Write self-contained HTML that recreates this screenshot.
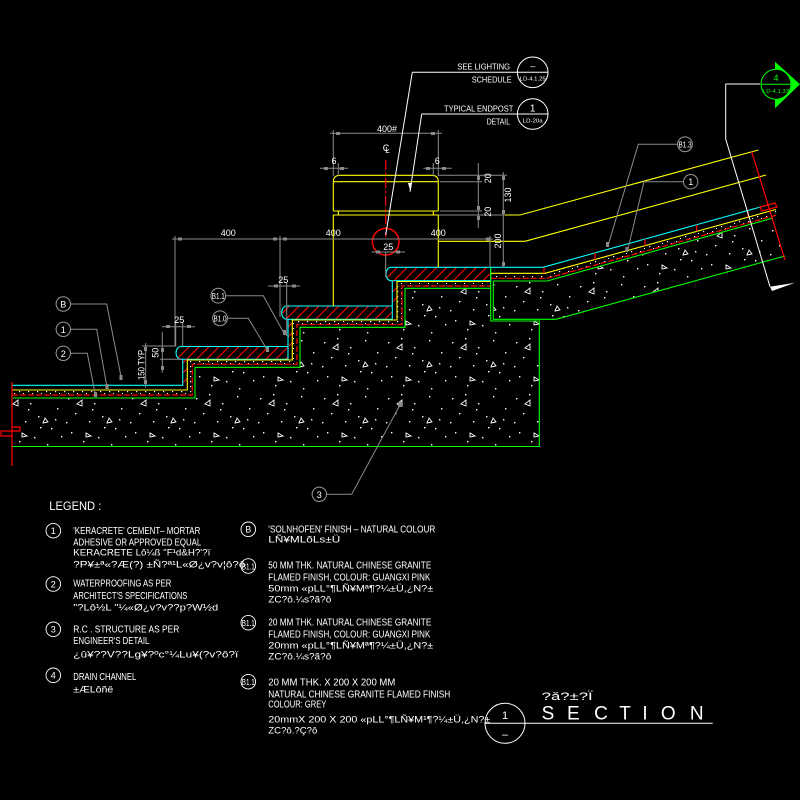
<!DOCTYPE html>
<html><head><meta charset="utf-8"><style>
html,body{margin:0;padding:0;background:#000;}
svg{display:block;}
text{font-family:"Liberation Sans","DejaVu Sans",sans-serif;fill:#fff;}
</style></head><body>
<svg width="800" height="800" viewBox="0 0 800 800">
<defs>
<pattern id="hatch" width="7" height="7" patternUnits="userSpaceOnUse" patternTransform="rotate(45)"><line x1="1" y1="0" x2="1" y2="7" stroke="#ff0000" stroke-width="1.1"/></pattern>
<pattern id="conc" width="64" height="56" patternUnits="userSpaceOnUse">
 <g fill="#fff">
  <rect x="4" y="6" width="1.4" height="1.4"/><rect x="17" y="2" width="1.4" height="1.4"/>
  <rect x="30" y="11" width="1.4" height="1.4"/><rect x="45" y="4" width="1.4" height="1.4"/>
  <rect x="57" y="16" width="1.4" height="1.4"/><rect x="11" y="21" width="1.4" height="1.4"/>
  <rect x="25" y="29" width="1.4" height="1.4"/><rect x="38" y="24" width="1.4" height="1.4"/>
  <rect x="51" y="36" width="1.4" height="1.4"/><rect x="7" y="40" width="1.4" height="1.4"/>
  <rect x="19" y="49" width="1.4" height="1.4"/><rect x="34" y="45" width="1.4" height="1.4"/>
  <rect x="47" y="52" width="1.4" height="1.4"/><rect x="61" y="44" width="1.4" height="1.4"/>
  <rect x="28" y="17" width="1.4" height="1.4"/><rect x="2" y="30" width="1.4" height="1.4"/>
  <rect x="55" y="27" width="1.4" height="1.4"/><rect x="40" y="35" width="1.4" height="1.4"/>
 </g>
 <g fill="none" stroke="#fff" stroke-width="0.9">
  <path d="M13,12 l5,-4 v6 z"/><path d="M43,31 l5,-1 l-3,-4 z"/><path d="M22,41 l5,3 l-5,1 z"/>
 </g>
</pattern>
<pattern id="mort" width="9" height="5" patternUnits="userSpaceOnUse"><rect x="1" y="1" width="1.2" height="1.2" fill="#fff"/><rect x="5" y="3" width="1" height="1" fill="#fff"/></pattern>
</defs>
<rect width="800" height="800" fill="#000"/>

<!-- concrete fills -->
<path d="M12,398 H195 V367.3 H300 V327.3 H405 V288.3 H490.7 V321 H539.3 V446.5 H12 Z" fill="url(#conc)"/>
<path d="M493.3,281 H547 L773,218 L785,256 L556,319.3 H493.3 Z" fill="url(#conc)"/>

<!-- mortar bands -->
<path d="M12,390 H187.3 V360 H292.3 V320 H397 V281.5 H490.7 V286 H402 V324.5 H297 V364.3 H192.3 V395 H12 Z" fill="url(#mort)"/>
<path d="M490.7,273.3 H545 L776,209.5 L777,215 L547,278.3 H490.7 Z" fill="url(#mort)"/>

<!-- slabs -->
<g fill="url(#hatch)" stroke="#00ffff" stroke-width="1.1">
 <path d="M181,346.5 H288 V359.3 H181 A5 6.4 0 0 1 181,346.5 Z"/>
 <path d="M286.7,306 H392.3 V319.3 H286.7 A5 6.65 0 0 1 286.7,306 Z"/>
 <path d="M391,267.3 H490.7 V280.7 H391 A5 6.7 0 0 1 391,267.3 Z"/>
</g>
<g fill="url(#hatch)">
 <rect x="182.7" y="359.3" width="4.6" height="26"/>
 <rect x="288" y="319.3" width="4.3" height="26.7"/>
 <rect x="392.3" y="280.7" width="4.7" height="25.3"/>
</g>

<!-- cyan lines -->
<g stroke="#00ffff" stroke-width="1.1" fill="none">
 <path d="M12,385.3 H182.7 V359.3"/>
 <path d="M288,319.3 V346.5"/>
 <path d="M392.3,280.7 V306"/>
 <path d="M490.7,267.3 H543 L775,203"/>
</g>
<!-- yellow layer lines -->
<g stroke="#ffff00" stroke-width="1.1" fill="none">
 <path d="M12,390 H187.3 V360 H292.3 V320 H397 V281.5 H490.7"/>
 <path d="M490.7,273.3 H545 L776,209.5"/>
 <path d="M438.3,241.3 H525 L766,175"/>
 <path d="M505,215 H520 L758.3,150"/>
 <path d="M333.3,306 V215 H438.3 V267.3"/>
 <path d="M333.3,211 H438.3"/>
 <path d="M338.3,211 V215 M433.3,211 V215"/>
 <path d="M333.3,211 V181.7 Q333.3,175.3 340,175.3 H431.6 Q438.3,175.3 438.3,181.7 V211"/>
 <path d="M333.3,181.7 H438.3"/>
</g>
<!-- red dashed waterproofing -->
<g stroke="#ff0000" stroke-width="1.2" fill="none" stroke-dasharray="6 2">
 <path d="M12,395 H192.3 V364.3 H297 V324.5 H402 V286 H490.7"/>
 <path d="M490.7,278.3 H547 L777,215"/>
</g>
<!-- green concrete lines -->
<g stroke="#00ff00" stroke-width="1.1" fill="none">
 <path d="M12,398 H195 V367.3 H300 V327.3 H405 V288.3 H490.7"/>
 <path d="M490.7,267.3 V321 H539.3 V446.5 H12"/>
 <path d="M493.3,281 H547 L773,218"/>
 <path d="M493.3,281 V319.3 H556 L785,256"/>
</g>
<!-- red misc -->
<g stroke="#ff0000" stroke-width="1.2" fill="none">
 <path d="M12,382 V466"/>
 <path d="M12,427 H20 V431 H12 M12,431 H1 V436 H12"/>
 <path d="M544,267.3 V273.3 M595,252.9 V259.5 M645,239 V245.7 M696.7,224.7 V231.3 M748,210.6 V217.2"/>
 <path d="M751.7,151.7 L785,260"/>
 <path d="M760,207 L775,203 L777,207 L762,211 Z"/>
 <path d="M385.7,160 V237" stroke-dasharray="10 3 2 3"/>
 <circle cx="385.7" cy="241.7" r="13.3" stroke-width="1.5"/>
</g>

<!-- dimensions -->
<g stroke="#8a8a8a" stroke-width="1" fill="none">
 <path d="M333.3,130 V176 M438.3,130 V176 M330,133.3 H442"/>
 <path d="M320,168.3 H348 M338.3,163 V176"/>
 <path d="M423.3,168.3 H451.7 M433.3,163 V176"/>
 <path d="M478.3,163 V228 M438.3,175.3 H507 M440,181.7 H482 M440,211 H482 M438.3,215 H505 M503.3,172 V268"/>
 <path d="M172,239 H493 M175,236 V346 M280,236 V317 M490,236 V267"/>
 <path d="M371.7,252 H405 M385.7,252 V277"/>
 <path d="M268,286 H300 M286.7,283 V336"/>
 <path d="M161.7,326.7 H195 M175.7,322 V346 M182.7,322 V346"/>
 <path d="M145.7,343 V388 M142,346 H176"/>
 <path d="M162.3,331.7 V372.7 M160,359.3 H182"/>
 <path d="M70.3,304 H106.7 L121.7,380"/>
 <path d="M70.3,329.3 H96.7 L107.3,389"/>
 <path d="M70.3,353.3 H87.3 L95.7,396.7"/>
 <path d="M225.6,295.7 H263.3 L285,335"/>
 <path d="M227.3,318.3 H248.3 L268.3,351.7"/>
 <path d="M326.6,494.3 H351.7 L401.7,401.7"/>
 <path d="M677.7,144.3 H638.3 L607.7,246.7"/>
 <path d="M683.4,181.7 H644 L627.3,251.7"/>
</g>
<g fill="#8a8a8a">
 <rect x="336" y="132" width="4" height="3"/><rect x="431" y="132" width="4" height="3"/>
 <rect x="324" y="167" width="4" height="3"/><rect x="340" y="167" width="4" height="3"/>
 <rect x="426" y="167" width="4" height="3"/><rect x="442" y="167" width="4" height="3"/>
 <rect x="477" y="176" width="3" height="4"/><rect x="477" y="206" width="3" height="4"/><rect x="477" y="216" width="3" height="4"/>
 <rect x="502" y="176" width="3" height="4"/><rect x="502" y="210" width="3" height="4"/><rect x="502" y="262" width="3" height="4"/>
 <rect x="178" y="237.5" width="4" height="3"/><rect x="273" y="237.5" width="4" height="3"/><rect x="283" y="237.5" width="4" height="3"/><rect x="486" y="237.5" width="4" height="3"/>
 <rect x="376" y="250.5" width="4" height="3"/><rect x="396" y="250.5" width="4" height="3"/>
 <rect x="274" y="284.5" width="4" height="3"/><rect x="292" y="284.5" width="4" height="3"/>
 <rect x="166" y="325" width="4" height="3"/><rect x="187" y="325" width="4" height="3"/>
 <rect x="144" y="347" width="3" height="4"/><rect x="144" y="380" width="3" height="4"/>
 <rect x="161" y="348" width="3" height="4"/><rect x="161" y="366" width="3" height="4"/>
 <rect x="119.5" y="375" width="3" height="5"/><rect x="105.5" y="384" width="3" height="5"/><rect x="94" y="392" width="3" height="5"/>
 <rect x="283" y="330" width="3" height="5"/><rect x="266" y="347" width="3" height="5"/>
 <rect x="398" y="402" width="4" height="5"/><rect x="606" y="242" width="3" height="5"/><rect x="625.5" y="247" width="3" height="5"/>
</g>

<!-- dimension text -->
<g font-size="9" text-anchor="middle">
 <text x="387" y="132" textLength="20" lengthAdjust="spacingAndGlyphs">400#</text>
 <text x="386" y="151">C</text><text x="387.5" y="153" font-size="8">L</text>
 <text x="334" y="164">6</text><text x="437.3" y="164">6</text>
 <text x="228.3" y="236">400</text><text x="333.3" y="236">400</text><text x="438.3" y="236">400</text>
 <text x="388.3" y="250">25</text>
 <text x="283.3" y="283">25</text>
 <text x="179.3" y="323">25</text>
 <text transform="translate(491,178.3) rotate(-90)">20</text>
 <text transform="translate(491,211.7) rotate(-90)">20</text>
 <text transform="translate(511,195) rotate(-90)">130</text>
 <text transform="translate(501,241) rotate(-90)">200</text>
 <text transform="translate(144.7,365) rotate(-90)" textLength="30" lengthAdjust="spacingAndGlyphs">150 TYP</text>
 <text transform="translate(158.3,352.7) rotate(-90)">50</text>
</g>

<!-- diagram label circles -->
<g fill="#000" stroke="#9a9a9a" stroke-width="1">
 <circle cx="63.3" cy="304" r="7.2"/><circle cx="63.3" cy="329.3" r="7.2"/><circle cx="63.3" cy="353.3" r="7.2"/>
 <circle cx="218.3" cy="295.7" r="7.4"/><circle cx="220" cy="318.3" r="7.4"/>
 <circle cx="319.3" cy="494.3" r="7.2"/><circle cx="685" cy="144.3" r="7.4"/><circle cx="690.7" cy="181.7" r="7.2"/>
</g>
<g font-size="9" text-anchor="middle">
 <text x="63.3" y="307.5">B</text><text x="63.3" y="332.8">1</text><text x="63.3" y="356.8">2</text>
 <text x="218.3" y="299" font-size="8" textLength="13" lengthAdjust="spacingAndGlyphs">B1.1</text>
 <text x="220" y="321.6" font-size="8" textLength="13" lengthAdjust="spacingAndGlyphs">B1.0</text>
 <text x="319.3" y="497.8">3</text>
 <text x="685" y="147.6" font-size="8" textLength="13" lengthAdjust="spacingAndGlyphs">B1.3</text>
 <text x="690.7" y="185.2">1</text>
</g>

<!-- top references -->
<g stroke="#fff" stroke-width="1" fill="none">
 <path d="M412.3,72.3 H548.3 M412.3,72.3 L385.7,235"/>
 <path d="M421.7,114 H548.3 M421.7,114 L410,191.7"/>
 <circle cx="532.7" cy="72.3" r="15.3"/>
 <circle cx="532.7" cy="114" r="15.3"/>
 <path d="M725.7,84 H760 M725.7,84 V139 L770,286.7"/>
</g>
<path d="M408,183 L410.5,191.7 L412,183 Z" fill="#fff"/>
<path d="M770,286.7 L795,282.7 L772,291 Z" fill="#fff"/>
<g font-size="8.5">
 <text x="510" y="69.3" text-anchor="end" textLength="52.7" lengthAdjust="spacingAndGlyphs">SEE LIGHTING</text>
 <text x="511.7" y="82.7" text-anchor="end" textLength="40" lengthAdjust="spacingAndGlyphs">SCHEDULE</text>
 <text x="513.3" y="111.5" text-anchor="end" textLength="69.3" lengthAdjust="spacingAndGlyphs">TYPICAL ENDPOST</text>
 <text x="510" y="124.5" text-anchor="end" textLength="23.3" lengthAdjust="spacingAndGlyphs">DETAIL</text>
</g>
<g text-anchor="middle">
 <text x="532.7" y="69" font-size="9">–</text>
 <text x="532.7" y="80.5" font-size="5.5" textLength="26" lengthAdjust="spacingAndGlyphs">LD-4.1.25</text>
 <text x="532.7" y="111.5" font-size="10">1</text>
 <text x="532.7" y="122.5" font-size="5.5" textLength="20" lengthAdjust="spacingAndGlyphs">LD-20a</text>
</g>
<!-- green section marker -->
<path d="M775,61.7 L800,84.3 L775,108.3 Z" fill="#00ff00"/>
<circle cx="776" cy="84.3" r="15" fill="#000" stroke="#00ff00" stroke-width="1"/>
<path d="M761,84.3 H795" stroke="#00ff00" stroke-width="1"/>
<text x="776" y="81" font-size="9" text-anchor="middle" style="fill:#00ff00">4</text>
<text x="776" y="93" font-size="5.5" text-anchor="middle" textLength="26" lengthAdjust="spacingAndGlyphs" style="fill:#00ff00">LD-4.1.33</text>

<!-- legend -->
<text x="49.3" y="510" font-size="12.3" textLength="52" lengthAdjust="spacingAndGlyphs">LEGEND :</text>
<g fill="none" stroke="#fff" stroke-width="0.9">
 <circle cx="53.3" cy="530.7" r="7.3"/><circle cx="53.3" cy="584" r="7.3"/><circle cx="53.3" cy="629.3" r="7.3"/><circle cx="53.3" cy="675.3" r="7.3"/>
 <circle cx="248.3" cy="529.3" r="7.3"/><circle cx="248.3" cy="566" r="7.3"/><circle cx="248.3" cy="622.7" r="7.3"/><circle cx="248.3" cy="681.7" r="7.3"/>
</g>
<g font-size="9" text-anchor="middle">
 <text x="53.3" y="534">1</text><text x="53.3" y="587.3">2</text><text x="53.3" y="632.6">3</text><text x="53.3" y="678.6">4</text>
 <text x="248.3" y="532.6">B</text>
 <text x="248.3" y="569.3" font-size="8" textLength="13" lengthAdjust="spacingAndGlyphs">B1.1</text>
 <text x="248.3" y="626" font-size="8" textLength="13" lengthAdjust="spacingAndGlyphs">B1.1</text>
 <text x="248.3" y="685" font-size="8" textLength="13" lengthAdjust="spacingAndGlyphs">B1.1</text>
</g>
<g font-size="10">
 <text x="73.3" y="534" textLength="127" lengthAdjust="spacingAndGlyphs">'KERACRETE' CEMENT– MORTAR</text>
 <text x="73.3" y="545.7" textLength="128" lengthAdjust="spacingAndGlyphs">ADHESIVE OR APPROVED EQUAL</text>
 <text x="73.3" y="555.7" textLength="137" lengthAdjust="spacingAndGlyphs" font-size="9.5">KERACRETE Lô¼ß "F¹d&amp;H?'?ï</text>
 <text x="73.3" y="567.3" textLength="172" lengthAdjust="spacingAndGlyphs" font-size="9.5">?P¥±ª«?Æ(?) ±Ñ?ª¹L«Ø¿v?v¦ô?ô</text>
 <text x="73.3" y="586.7" textLength="98" lengthAdjust="spacingAndGlyphs">WATERPROOFING AS PER</text>
 <text x="73.3" y="599" textLength="114" lengthAdjust="spacingAndGlyphs">ARCHITECT'S SPECIFICATIONS</text>
 <text x="73.3" y="610.7" textLength="145" lengthAdjust="spacingAndGlyphs" font-size="9.5">"?Lô½L "¼«Ø¿v?v??p?W½d</text>
 <text x="73.3" y="632.3" textLength="106" lengthAdjust="spacingAndGlyphs">R.C . STRUCTURE AS PER</text>
 <text x="73.3" y="644" textLength="76" lengthAdjust="spacingAndGlyphs">ENGINEER'S DETAIL</text>
 <text x="73.3" y="657.3" textLength="165" lengthAdjust="spacingAndGlyphs" font-size="9.5">¿û¥??V??Lg¥?ºc°¼Lu¥(?v?ô?ï</text>
 <text x="73.3" y="680" textLength="63" lengthAdjust="spacingAndGlyphs">DRAIN CHANNEL</text>
 <text x="73.3" y="692.3" textLength="40" lengthAdjust="spacingAndGlyphs" font-size="9.5">±ÆLôñë</text>

 <text x="268.3" y="532.3" textLength="167" lengthAdjust="spacingAndGlyphs">'SOLNHOFEN' FINISH – NATURAL COLOUR</text>
 <text x="268.3" y="542.3" textLength="72" lengthAdjust="spacingAndGlyphs" font-size="9.5">LÑ¥MLõLs±Ü</text>
 <text x="268.3" y="568.3" textLength="163" lengthAdjust="spacingAndGlyphs">50 MM THK. NATURAL CHINESE GRANITE</text>
 <text x="268.3" y="580.7" textLength="162" lengthAdjust="spacingAndGlyphs">FLAMED FINISH, COLOUR: GUANGXI PINK</text>
 <text x="268.3" y="591.7" textLength="165" lengthAdjust="spacingAndGlyphs" font-size="9.5">50mm «pLL°¶LÑ¥Mª¶?¼±Ü,¿N?±</text>
 <text x="268.3" y="602.7" textLength="63" lengthAdjust="spacingAndGlyphs" font-size="9.5">ZC?ô.¼s?ã?ô</text>
 <text x="268.3" y="625.7" textLength="163" lengthAdjust="spacingAndGlyphs">20 MM THK. NATURAL CHINESE GRANITE</text>
 <text x="268.3" y="637.3" textLength="162" lengthAdjust="spacingAndGlyphs">FLAMED FINISH, COLOUR: GUANGXI PINK</text>
 <text x="268.3" y="648.3" textLength="165" lengthAdjust="spacingAndGlyphs" font-size="9.5">20mm «pLL°¶LÑ¥Mª¶?¼±Ü,¿N?±</text>
 <text x="268.3" y="659.3" textLength="63" lengthAdjust="spacingAndGlyphs" font-size="9.5">ZC?ô.¼s?ã?ô</text>
 <text x="268.3" y="685.7" textLength="127" lengthAdjust="spacingAndGlyphs">20 MM THK. X 200 X 200 MM</text>
 <text x="268.3" y="697.3" textLength="182" lengthAdjust="spacingAndGlyphs">NATURAL CHINESE GRANITE FLAMED FINISH</text>
 <text x="268.3" y="707.3" textLength="58" lengthAdjust="spacingAndGlyphs">COLOUR: GREY</text>
 <text x="268.3" y="722.3" textLength="222" lengthAdjust="spacingAndGlyphs" font-size="9.5">20mmX 200 X 200 «pLL°¶LÑ¥M¹¶?¼±Ü,¿N?±</text>
 <text x="268.3" y="733.3" textLength="49" lengthAdjust="spacingAndGlyphs" font-size="9.5">ZC?ô.?Ç?ô</text>
</g>

<!-- section title -->
<circle cx="505" cy="723.3" r="20" fill="none" stroke="#fff" stroke-width="1"/>
<path d="M485,723.3 H712.7" stroke="#fff" stroke-width="1"/>
<text x="505" y="719" font-size="11" text-anchor="middle">1</text>
<text x="505" y="738" font-size="11" text-anchor="middle">–</text>
<text x="541.7" y="700" font-size="11" textLength="51" lengthAdjust="spacingAndGlyphs">?ǎ?±?Ï</text>
<g font-size="19" text-anchor="middle">
 <text x="548" y="719.3">S</text><text x="573.3" y="719.3">E</text><text x="601" y="719.3">C</text>
 <text x="625" y="719.3">T</text><text x="645" y="719.3">I</text><text x="668.3" y="719.3">O</text><text x="696.7" y="719.3">N</text>
</g>
</svg>
</body></html>
